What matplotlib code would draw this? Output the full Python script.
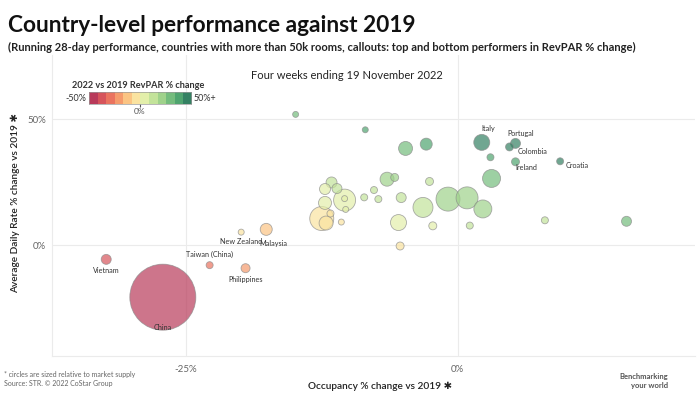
import numpy as np
import matplotlib
matplotlib.use('Agg')
import matplotlib.pyplot as plt
from matplotlib.colors import ListedColormap, BoundaryNorm

plt.rcParams['font.family'] = ['Lato', 'DejaVu Sans']

# occupancy % change vs 2019, ADR % change vs 2019, RevPAR % change, supply (k rooms)
occ = [-27.1, -32.3, -22.8, -19.5, -19.9, -17.6, 2.2, 5.3, 4.75, 5.3, 9.4,
       3.0, 3.1, -0.9, 0.85, 2.3, 1.1, 8.0, 15.5, -14.9, -8.5, -4.8, -2.9,
       -6.5, -5.8, -11.6, -12.2, -11.1, -7.7, -2.6, -10.4, -10.4, -10.3,
       -12.2, -8.6, -7.3, -5.2, -3.2, -12.5, -12.1, -11.7, -10.7, -5.45,
       -2.3, -5.3]
adr = [-20.6, -5.6, -7.9, -9.1, 5.2, 6.3, 40.8, 40.4, 39.0, 33.1, 33.3,
       34.9, 26.5, 18.3, 18.8, 14.4, 7.8, 9.9, 9.5, 51.9, 45.8, 38.4, 40.1,
       26.2, 26.9, 24.9, 22.3, 22.5, 21.9, 25.3, 17.9, 18.5, 14.2,
       16.8, 19.0, 18.3, 18.9, 15.0, 10.6, 8.8, 12.6, 9.2, 9.0,
       7.7, -0.3]
revpar = [-55, -38, -28, -25, -8, -12, 52, 48, 47, 40, 45,
          38, 32, 20, 20, 22, 10, 12, 25, 30, 35, 30, 35,
          22, 20, 15, 8, 15, 12, 15, 5, 5, 8,
          8, 12, 10, 10, 10, -5, -8, -3, -3, 5,
          5, -5]
supply = [6534, 150, 74, 122, 54, 216, 384, 150, 96, 96, 74,
          74, 486, 864, 726, 486, 74, 74, 150, 54, 54, 294, 216,
          294, 96, 182, 182, 150, 74, 96, 726, 54, 54,
          254, 74, 74, 150, 600, 864, 294, 74, 54, 384,
          96, 96]
names = ['China', 'Vietnam', 'Taiwan (China)', 'Philippines', 'New Zealand',
         'Malaysia', 'Italy', 'Portugal', 'Colombia', 'Ireland', 'Croatia']

# label offsets in points (dx, dy, ha)
label_pos = {
    'China': (0, -22, 'center'),
    'Vietnam': (0, -8, 'center'),
    'Taiwan (China)': (0, 8, 'center'),
    'Philippines': (0, -8, 'center'),
    'New Zealand': (0, -7, 'center'),
    'Malaysia': (5, -10, 'center'),
    'Italy': (5, 10, 'center'),
    'Portugal': (4, 7, 'center'),
    'Colombia': (6, -3, 'left'),
    'Ireland': (0, -4, 'left'),
    'Croatia': (4, -3, 'left'),
}

colors = ['#b83a5a', '#d6545b', '#ea735f', '#f59b6c', '#fbc483', '#fae3a0',
          '#e3efaa', '#c3e39a', '#9fd28b', '#74bc7d', '#4fa46f', '#348163']
cmap = ListedColormap(colors)
norm = BoundaryNorm(np.linspace(-50, 50, 13), cmap.N)

fig = plt.figure(figsize=(7, 3.94), dpi=100)
ax = fig.add_axes([0.074, 0.096, 0.919, 0.764])

sizes = np.array(supply) * 0.3456
order = np.argsort(sizes)[::-1]
ax.scatter(np.array(occ)[order], np.array(adr)[order], s=sizes[order],
           c=np.clip(np.array(revpar)[order], -49.9, 49.9), cmap=cmap, norm=norm,
           alpha=0.7, edgecolors='#8a8a8a', linewidths=0.6, zorder=3)

for i, n in enumerate(names):
    dx, dy, ha = label_pos[n]
    ax.annotate(n, (occ[i], adr[i]), xytext=(dx, dy), textcoords='offset points',
                ha=ha, va='center', fontsize=5.2, color='#333333', zorder=4)

ax.set_xlim(-37.3, 21.8)
ax.set_ylim(-44, 75.4)
ax.set_xticks([-25, 0])
ax.set_xticklabels(['-25%', '0%'])
ax.set_yticks([0, 50])
ax.set_yticklabels(['0%', '50%'])
ax.tick_params(length=0, labelsize=7, colors='#666666', pad=6)
ax.tick_params(axis='y', pad=4)
ax.grid(True, color='#ebebeb', linewidth=0.8, zorder=0)
for side in ['top', 'right']:
    ax.spines[side].set_visible(False)
for side in ['left', 'bottom']:
    ax.spines[side].set_color('#ebebeb')
ax.set_xlabel('Occupancy % change vs 2019 \u2731', fontsize=7.3, color='#222222',
              fontweight='semibold')
ax.xaxis.set_label_coords(0.51, -0.085)
ax.set_ylabel('Average Daily Rate % change vs 2019 \u2731', fontsize=7.3, color='#222222',
              fontweight='semibold')
ax.yaxis.set_label_coords(-0.05, 0.51)

fig.text(0.011, 0.935, 'Country-level performance against 2019', fontsize=16.3,
         fontweight='bold', color='#111111', va='center')
fig.text(0.011, 0.88, '(Running 28-day performance, countries with more than 50k rooms, '
         'callouts: top and bottom performers in RevPAR % change)', fontsize=8.0,
         fontweight='bold', color='#222222', va='center')
fig.text(0.496, 0.808, 'Four weeks ending 19 November 2022', fontsize=8,
         color='#222222', ha='center', va='center')

# colour legend
fig.text(0.197, 0.782, '2022 vs 2019 RevPAR % change', fontsize=6.6,
         fontweight='bold', color='#333333', ha='center', va='center')
cax = fig.add_axes([0.127, 0.736, 0.146, 0.03])
cax.imshow(np.arange(12).reshape(1, -1), cmap=cmap, aspect='auto',
           extent=[-50, 50, 0, 1])
cax.set_xticks([0])
cax.set_xticklabels(['0%'])
cax.set_yticks([])
cax.tick_params(length=2, labelsize=6, colors='#555555', pad=1)
for s in cax.spines.values():
    s.set_color('#999999')
    s.set_linewidth(0.5)
fig.text(0.123, 0.751, '-50%', fontsize=6.5, color='#333333', ha='right', va='center')
fig.text(0.277, 0.751, '50%+', fontsize=6.5, color='#333333', ha='left', va='center')

fig.text(0.005, 0.05, '* circles are sized relative to market supply', fontsize=5,
         color='#666666', va='center')
fig.text(0.005, 0.027, 'Source: STR. \u00a9 2022 CoStar Group', fontsize=5,
         color='#666666', va='center')
fig.text(0.955, 0.045, 'Benchmarking', fontsize=5.5, fontweight='bold',
         color='#555555', ha='right', va='center')
fig.text(0.955, 0.022, 'your world', fontsize=5.5, fontweight='bold',
         color='#555555', ha='right', va='center')

fig.savefig('out.png', dpi=100)
